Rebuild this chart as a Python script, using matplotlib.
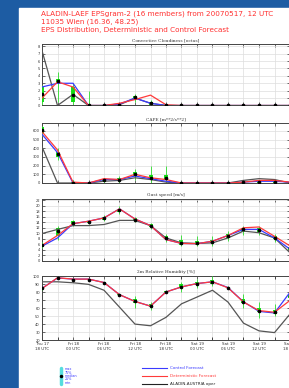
import matplotlib
matplotlib.use("Agg")
import matplotlib.pyplot as plt
import numpy as np

# forecast steps (hours after Thu 17 18 UTC), every 3 h
hours = np.arange(0, 49, 3)
day_labels = ["Thu 17\n18 UTC", "Fri 18\n00 UTC", "Fri 18\n06 UTC", "Fri 18\n12 UTC",
              "Fri 18\n18 UTC", "Sat 19\n00 UTC", "Sat 19\n06 UTC", "Sat 19\n12 UTC",
              "Sat 19\n18 UTC"]

# convective cloudiness [octas]
cc_ctrl = [2.5, 3.0, 3.0, 0, 0, 0.2, 1.0, 0.3, 0, 0, 0, 0, 0, 0, 0, 0, 0]
cc_det = [1.0, 3.2, 2.5, 0, 0, 0.3, 0.8, 1.4, 0.1, 0, 0, 0, 0, 0, 0, 0, 0]
cc_oper = [7.4, 0, 1.5, 0, 0, 0.1, 1.0, 0.3, 0, 0, 0, 0, 0, 0, 0, 0, 0]
cc_min = [0, 0.5, 0, 0, 0, 0, 0.5, 0, 0, 0, 0, 0, 0, 0, 0, 0, 0]
cc_q25 = [0.5, 3.0, 0.5, 0, 0, 0, 0.8, 0.1, 0, 0, 0, 0, 0, 0, 0, 0, 0]
cc_med = [1.6, 3.3, 1.4, 0, 0, 0, 1.1, 0.3, 0.1, 0, 0, 0, 0, 0, 0, 0, 0]
cc_q75 = [2.5, 3.6, 2.5, 0, 0, 0.1, 1.3, 0.5, 0.1, 0, 0, 0, 0, 0, 0, 0, 0]
cc_max = [2.7, 4.5, 3.0, 2.0, 0, 0.3, 1.6, 0.8, 0.2, 0, 0, 0, 0, 0, 0, 0, 0]

# CAPE [m**2/s**2]
cape_ctrl = [560, 350, 0, 0, 40, 40, 80, 50, 20, 0, 0, 0, 0, 10, 20, 20, 10]
cape_det = [590, 380, 10, 0, 50, 40, 100, 60, 40, 0, 0, 0, 0, 10, 30, 30, 10]
cape_oper = [416, 0, 0, 0, 20, 30, 60, 40, 10, 0, 0, 0, 0, 30, 50, 40, 0]
cape_min = [540, 270, 0, 0, 0, 0, 40, 0, 0, 0, 0, 0, 0, 0, 0, 0, 0]
cape_q25 = [570, 300, 0, 0, 15, 25, 80, 40, 30, 0, 0, 0, 0, 0, 0, 0, 0]
cape_med = [610, 330, 5, 0, 30, 40, 100, 60, 60, 0, 0, 0, 0, 10, 10, 10, 5]
cape_q75 = [640, 360, 15, 0, 45, 55, 125, 90, 90, 0, 0, 0, 0, 15, 20, 20, 10]
cape_max = [660, 400, 30, 10, 60, 80, 160, 190, 200, 10, 0, 0, 0, 20, 30, 30, 15]

# gust speed [m/s]
gust_ctrl = [5.3, 8.3, 13.5, 14.4, 15.6, 18.9, 15.2, 12.8, 7.7, 6.3, 6.2, 7.1, 9.2, 11.4, 11.4, 8.3, 4.2]
gust_det = [5.6, 9.2, 13.5, 14.4, 15.6, 18.9, 15.2, 12.8, 7.7, 6.3, 6.2, 7.1, 9.2, 12.0, 12.3, 8.9, 5.4]
gust_oper = [9.9, 11.4, 12.8, 12.8, 13.2, 14.7, 14.7, 12.8, 8.3, 6.5, 6.3, 6.5, 8.3, 10.8, 10.2, 8.3, 2.9]
gust_min = [4.5, 7.7, 12.5, 13.5, 14.5, 17.0, 14.0, 11.5, 7.0, 5.2, 5.2, 5.5, 7.2, 9.5, 9.5, 7.0, 3.5]
gust_q25 = [5.0, 9.0, 13.2, 13.9, 15.0, 17.8, 14.6, 12.3, 7.8, 5.8, 5.7, 6.3, 8.3, 10.6, 10.4, 7.8, 4.0]
gust_med = [5.6, 10.8, 13.8, 14.2, 15.4, 18.4, 15.0, 12.8, 8.3, 6.5, 6.3, 6.9, 9.0, 11.4, 11.2, 8.3, 4.5]
gust_q75 = [6.2, 12.0, 14.3, 14.5, 15.9, 19.0, 15.4, 13.3, 8.9, 7.5, 7.3, 7.6, 9.8, 12.0, 11.9, 8.9, 5.0]
gust_max = [7.0, 12.8, 14.8, 14.9, 16.5, 19.8, 16.0, 13.8, 9.6, 9.2, 9.0, 8.9, 10.8, 12.8, 12.5, 9.8, 5.5]

# 2m relative humidity [%]
rh_ctrl = [85, 98, 96.6, 96.6, 92.3, 77, 68.5, 62.6, 80.4, 86.8, 91, 93.2, 86, 68, 56, 54, 80]
rh_det = [84.7, 98.3, 96.6, 96.6, 92.3, 77, 68.5, 62.6, 80.4, 86.8, 91, 93.2, 85.6, 67.7, 57, 54.9, 69.8]
rh_oper = [93.2, 93.2, 92, 90, 82.6, 61.3, 40, 37.9, 48.5, 65.5, 74, 82.6, 67.7, 41.2, 31.5, 29.3, 52.7]
rh_min = [83, 97, 95, 95, 91, 76, 60, 58, 79, 80, 85, 88, 84, 60, 48, 50, 70]
rh_q25 = [84, 97.5, 95.5, 95.5, 91.5, 76.5, 67, 61, 80, 85, 89, 91, 85, 66, 55, 53, 73]
rh_med = [85, 98, 96, 96, 92, 77, 69, 63, 81, 87, 91, 93, 86, 68, 57, 55, 75]
rh_q75 = [86, 98.5, 96.5, 96.5, 92.5, 77.5, 71, 65, 82, 90, 93, 96, 87, 71, 60, 58, 78]
rh_max = [87, 99, 97, 97, 93, 78, 75, 68, 83, 93, 97, 100, 88, 78, 68, 65, 82]

W, H = 289, 388
BLUE_BG = "#1d5ca3"
C_CTRL, C_DET, C_OPER = "#3a3aff", "#ff3a3a", "#555555"
C_BOX, C_WHISK = "#11dd11", "#44dd44"

fig = plt.figure(figsize=(W / 100, H / 100), dpi=100)
fig.patch.set_facecolor(BLUE_BG)

# page overlay in pixel coordinates
bg = fig.add_axes([0, 0, 1, 1])
bg.set_xlim(0, W)
bg.set_ylim(H, 0)
bg.axis("off")
bg.add_patch(plt.Rectangle((19, 8), W, H, color="white", zorder=0))

def px_axes(left, top, right, bottom):
  return fig.add_axes([left / W, 1 - bottom / H, (right - left) / W, (bottom - top) / H])

def panel(ax, title, ylim, yticks, ctrl, det, oper, mn, q25, med, q75, mx):
  ax.set_xlim(0, 48)
  ax.set_ylim(*ylim)
  ax.set_xticks(hours)
  ax.set_yticks(yticks)
  ax.grid(True, color="#dddddd", lw=0.5)
  ax.tick_params(direction="in", length=2, width=0.5, labelsize=2.6, pad=1.5,
                 top=True, right=True, colors="#333333")
  ax.set_xticklabels([])
  for s in ax.spines.values():
    s.set_linewidth(0.7)
    s.set_color("#444444")
  ax.set_title(title, fontsize=3.2, pad=2, family="DejaVu Serif", color="#333333")
  ax.vlines(hours, mn, mx, color=C_WHISK, lw=0.7, zorder=3)
  ax.vlines(hours, q25, q75, color=C_BOX, lw=2.8, zorder=3)
  ax.plot(hours, oper, color=C_OPER, lw=0.9, zorder=4)
  ax.plot(hours, ctrl, color=C_CTRL, lw=0.9, zorder=4)
  ax.plot(hours, det, color=C_DET, lw=0.9, zorder=4)
  ax.plot(hours, med, "o", color="black", ms=1.6, zorder=5)

ax1 = px_axes(42, 44, 290, 105.5)
panel(ax1, "Convective Cloudiness [octas]", (0, 8.3), range(0, 9),
      cc_ctrl, cc_det, cc_oper, cc_min, cc_q25, cc_med, cc_q75, cc_max)
ax2 = px_axes(42, 123, 290, 183)
panel(ax2, "CAPE [m**2/s**2]", (0, 690), range(0, 601, 100),
      cape_ctrl, cape_det, cape_oper, cape_min, cape_q25, cape_med, cape_q75, cape_max)
ax3 = px_axes(42, 199, 290, 260.7)
panel(ax3, "Gust speed [m/s]", (0, 22.5), range(0, 23, 2),
      gust_ctrl, gust_det, gust_oper, gust_min, gust_q25, gust_med, gust_q75, gust_max)
ax4 = px_axes(42, 276, 290, 340)
panel(ax4, "2m Relative Humidity [%]", (20, 100.5), range(20, 101, 10),
      rh_ctrl, rh_det, rh_oper, rh_min, rh_q25, rh_med, rh_q75, rh_max)
ax4.set_xticks(hours[::2])
ax4.set_xticklabels(day_labels)
ax4.set_xticks(hours, minor=True)
ax4.tick_params(which="minor", direction="in", length=2, width=0.5, top=True)
ax4.tick_params(axis="x", labelsize=2.9)
ax4.grid(True, which="minor", axis="x", color="#dddddd", lw=0.5)

# header
title_lines = ["ALADIN-LAEF EPSgram-2 (16 members) from 20070517, 12 UTC",
               "11035 Wien (16.36, 48.25)",
               "EPS Distribution, Deterministic and Control Forecast"]
for i, t in enumerate(title_lines):
  bg.text(41, 13.5 + i * 8.3, t, color="#ff3030", fontsize=5.25, va="center", ha="left")

# legend: box symbol
bg.plot([61, 61], [368, 384], color="#55dddd", lw=2.5, solid_capstyle="round")
bg.plot([61], [376], "o", color="black", ms=1.5)
for i, t in enumerate(["max", "75%", "median", "25%", "min"]):
  bg.text(65, 369.5 + i * 3.3, t, color="#3a3aff", fontsize=2.4, va="center")

# legend: lines
for i, (t, c) in enumerate([("Control Forecast", C_CTRL),
                            ("Deterministic Forecast", C_DET),
                            ("ALADIN-AUSTRIA oper", "#222222")]):
  y = 367.7 + i * 8.2
  bg.plot([141.5, 166.5], [y, y], color=c, lw=0.8)
  bg.text(170, y, t, color=c, fontsize=3.0, va="center")

fig.savefig("out.png", dpi=100, facecolor=fig.get_facecolor())
